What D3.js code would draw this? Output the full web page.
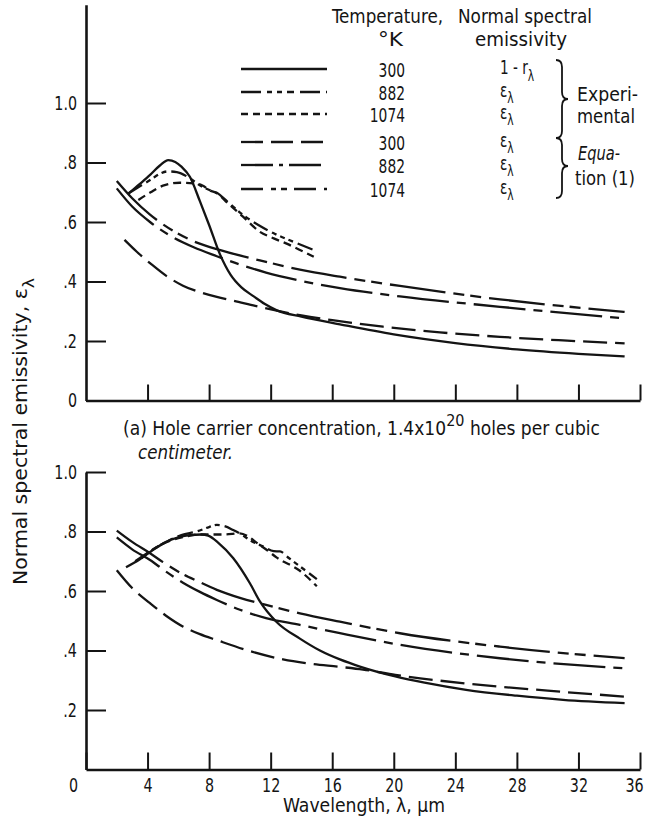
<!DOCTYPE html>
<html>
<head>
<meta charset="utf-8">
<script src="https://cdn.jsdelivr.net/npm/d3@7"></script>
<style>
  html, body { margin: 0; padding: 0; background: #fff; }
  svg { display: block; }
  text {
    font-family: "Liberation Sans Narrow", "DejaVu Sans Condensed", "DejaVu Sans", sans-serif;
    font-stretch: condensed;
    fill: #141414;
  }
</style>
</head>
<body>
<svg id="chart" width="646" height="819"></svg>
<script>
// ---- axes -------------------------------------------------------------
const wavelengthTicks = [0, 4, 8, 12, 16, 20, 24, 28, 32, 36];
const emissivityTicks = [0, 0.2, 0.4, 0.6, 0.8, 1.0];
const emissivityTickLabels = ["0", ".2", ".4", ".6", ".8", "1.0"];

// ---- legend -----------------------------------------------------------
const seriesKeys = ["exp300", "exp882", "exp1074", "eq300", "eq882", "eq1074"];
const legendTemperatures = ["300", "882", "1074", "300", "882", "1074"];
const legendQuantities = ["1 - r", "ε", "ε", "ε", "ε", "ε"];
const legendGroups = ["Experi-|mental", "Equa-|tion (1)"];

// ---- (a) 1.4x10^20 holes/cm^3 : [wavelength µm, emissivity] -----------
const aExp300 = [[2.75,0.695],[3.5,0.728],[4.2,0.76],[4.8,0.79],[5.35,0.808],[5.8,0.802],[6.2,0.786],[6.75,0.752],[7.4,0.67],[8.0,0.59],[8.7,0.492],[9.4,0.422],[10.1,0.38],[10.9,0.35],[11.6,0.325],[12.4,0.303],[14,0.282],[16.5,0.256],[20,0.222],[24,0.193],[28,0.172],[32,0.157],[35,0.148]];
const aExp882 = [[2.75,0.696],[3.5,0.72],[4.2,0.742],[4.8,0.762],[5.3,0.77],[5.9,0.768],[6.75,0.747],[7.5,0.72],[8.05,0.707],[8.5,0.698],[9.2,0.668],[10.2,0.624],[11.2,0.59],[12.2,0.562],[13.5,0.533],[14.8,0.506]];
const aExp1074 = [[3.4,0.674],[4.2,0.70],[5.0,0.722],[6.1,0.732],[7.0,0.73],[7.6,0.722],[8.05,0.706],[8.5,0.697],[9.2,0.664],[10.2,0.618],[11.3,0.567],[12.2,0.545],[13.0,0.528],[14.8,0.483]];
const aEq300 = [[2.5,0.54],[3.3,0.50],[4.2,0.46],[5.24,0.418],[6.3,0.386],[7.4,0.364],[8.5,0.348],[9.56,0.336],[11,0.318],[12.4,0.302],[14,0.286],[16,0.27],[19.3,0.248],[23,0.229],[26.9,0.214],[31,0.202],[35,0.192]];
const aEq882 = [[2.0,0.713],[3,0.652],[4.16,0.600],[5.67,0.548],[7,0.515],[8.5,0.485],[10,0.457],[11.7,0.43],[13.9,0.403],[16.5,0.378],[20.4,0.35],[26.9,0.315],[35,0.276]];
const aEq1074 = [[2.0,0.738],[3,0.68],[4.16,0.625],[5.67,0.57],[7,0.535],[8.9,0.503],[11.7,0.466],[13.9,0.44],[16.5,0.416],[20.4,0.385],[26.9,0.34],[35,0.298]];

// ---- (b) second sample --------------------------------------------------
const bExp300 = [[2.6,0.68],[3.5,0.707],[4.3,0.736],[5.24,0.766],[6.0,0.78],[6.75,0.788],[7.5,0.79],[7.94,0.786],[8.6,0.762],[9.56,0.711],[10.65,0.626],[11.3,0.565],[12.4,0.495],[13.9,0.44],[15.2,0.40],[16.5,0.37],[17.8,0.346],[20.1,0.313],[22,0.292],[24.7,0.268],[28,0.248],[31,0.234],[35,0.223]];
const bExp882 = [[3.2,0.70],[4.2,0.735],[5.24,0.766],[6.2,0.788],[7.2,0.80],[8.0,0.815],[8.5,0.822],[9.0,0.818],[9.56,0.805],[10.1,0.79],[10.65,0.771],[11.5,0.75],[12.2,0.734],[12.6,0.733],[13.2,0.71],[13.9,0.683],[15,0.64]];
const bExp1074 = [[3.6,0.71],[4.5,0.745],[5.5,0.77],[6.5,0.783],[7.3,0.79],[8.05,0.79],[9,0.79],[10,0.794],[10.5,0.785],[11.1,0.762],[11.8,0.736],[12.4,0.712],[13.9,0.668],[15,0.616]];
const bEq300 = [[2.0,0.67],[3,0.61],[4.16,0.559],[5.2,0.517],[6.32,0.48],[7.4,0.455],[8.5,0.435],[10.65,0.398],[12.8,0.37],[14.5,0.356],[16.5,0.345],[18,0.336],[20.1,0.318],[24.7,0.289],[30,0.265],[35,0.245]];
const bEq882 = [[2.0,0.78],[3,0.74],[4.16,0.704],[5.2,0.665],[6.3,0.628],[7.4,0.597],[8.5,0.57],[10,0.537],[11.7,0.509],[13.9,0.486],[16.5,0.458],[20.4,0.419],[26.9,0.374],[35,0.34]];
const bEq1074 = [[2.0,0.803],[3,0.765],[4.16,0.727],[5,0.697],[6.1,0.662],[7.3,0.632],[8.5,0.604],[10,0.577],[11.7,0.553],[13.9,0.525],[16.5,0.497],[20.4,0.458],[26.9,0.413],[35,0.374]];

const panelA = { exp300: aExp300, exp882: aExp882, exp1074: aExp1074, eq300: aEq300, eq882: aEq882, eq1074: aEq1074 };
const panelB = { exp300: bExp300, exp882: bExp882, exp1074: bExp1074, eq300: bEq300, eq882: bEq882, eq1074: bEq1074 };

// line styles: dash pattern on the plot and in the (shorter) legend key
const plotDash = {
  exp300: null,
  exp882: "16,5,5,4,5,4,5,5",
  exp1074: "8,5",
  eq300: "24,8",
  eq882: "52,8,9,8",
  eq1074: "56,8,11,6,11,8"
};
const keyDash = {
  exp300: null,
  exp882: "20,6,5,5,5,5,7,6",
  exp1074: "7,5",
  eq300: "22,8",
  eq882: "32,6,4,6",
  eq1074: "22,8,5,5,6,7"
};

// ---- layout -------------------------------------------------------------
const svg = d3.select("#chart");
const X0 = 86, X1 = 640;
const PX_PER_UNIT = 297.5;              // pixels per unit emissivity
const x = d3.scaleLinear().domain([0, 36]).range([X0, X1]);
const yA = d3.scaleLinear().domain([0, 1.33]).range([400.5, 400.5 - 1.33 * PX_PER_UNIT]);
const yB = d3.scaleLinear().domain([0, 1.0]).range([769.5, 769.5 - PX_PER_UNIT]);

// horizontal compression so a substitute font matches the narrow lettering
const probe = svg.append("text").attr("font-size", 20).text("0123456789");
const probeW = probe.node().getComputedTextLength();
probe.remove();
const K = Math.min(1, 91 / probeW);
function squeeze(sel) {
  sel.each(function () {
    if (K < 0.97) {
      const w = this.getComputedTextLength();
      this.setAttribute("textLength", (w * K).toFixed(1));
      this.setAttribute("lengthAdjust", "spacingAndGlyphs");
    }
  });
}
function fit(sel, w) {
  sel.attr("textLength", w).attr("lengthAdjust", "spacingAndGlyphs");
}

function drawPanel(y, data, yTicks, yLabels, showXLabels, xTickLen) {
  const g = svg.append("g");

  // y axis
  const yAxis = d3.axisLeft(y)
    .tickValues(yTicks)
    .tickSize(-20).tickSizeOuter(0).tickPadding(9)
    .tickFormat((d, i) => yLabels[i]);
  const ya = g.append("g").attr("transform", `translate(${X0},0)`).call(yAxis);
  ya.select(".domain").attr("stroke", "#141414").attr("stroke-width", 2.6);
  ya.selectAll(".tick line").attr("stroke", "#141414").attr("stroke-width", 2);
  ya.selectAll(".tick text").attr("font-size", 20).attr("font-family", null).attr("fill", "#141414");

  // x axis
  const xAxis = d3.axisBottom(x)
    .tickValues(showXLabels ? wavelengthTicks : wavelengthTicks.slice(1))
    .tickSize(-xTickLen).tickSizeOuter(0).tickPadding(8)
    .tickFormat(showXLabels ? d3.format("d") : () => "");
  const xa = g.append("g").attr("transform", `translate(0,${y(0)})`).call(xAxis);
  xa.select(".domain").attr("stroke", "#141414").attr("stroke-width", 2.6);
  xa.selectAll(".tick line").attr("stroke", "#141414").attr("stroke-width", 2);
  xa.selectAll(".tick text").attr("font-size", 20).attr("font-family", null).attr("fill", "#141414");
  xa.selectAll(".tick text").filter(d => d === 0).attr("x", -13);
  xa.selectAll(".tick text").filter(d => d === 36).attr("x", -6);

  squeeze(ya.selectAll(".tick text"));
  squeeze(xa.selectAll(".tick text"));

  // curves
  const line = d3.line()
    .x(d => x(d[0]))
    .y(d => y(d[1]))
    .curve(d3.curveMonotoneX);
  seriesKeys.forEach(k => {
    g.append("path")
      .datum(data[k])
      .attr("d", line)
      .attr("fill", "none")
      .attr("stroke", "#141414")
      .attr("stroke-width", 2.3)
      .attr("stroke-linejoin", "round")
      .attr("stroke-dasharray", plotDash[k]);
  });
  return g;
}

drawPanel(yA, panelA, emissivityTicks, emissivityTickLabels, false, 16);
drawPanel(yB, panelB, emissivityTicks.slice(1), emissivityTickLabels.slice(1), true, 17);

// ---- legend ---------------------------------------------------------------
const leg = svg.append("g");
const rowY = [69, 92, 114, 142, 165, 189];

fit(leg.append("text").attr("x", 332).attr("y", 22.5).attr("font-size", 20).text("Temperature,"), 111);
fit(leg.append("text").attr("x", 390.5).attr("y", 45.5).attr("font-size", 20).attr("text-anchor", "middle").text("°K"), 25);
fit(leg.append("text").attr("x", 458).attr("y", 22.5).attr("font-size", 20).text("Normal spectral"), 134);
fit(leg.append("text").attr("x", 475).attr("y", 45.5).attr("font-size", 20).text("emissivity"), 92);

seriesKeys.forEach((k, i) => {
  const yy = rowY[i];
  leg.append("line")
    .attr("x1", 241).attr("x2", 327).attr("y1", yy).attr("y2", yy)
    .attr("stroke", "#141414").attr("stroke-width", 2.3)
    .attr("stroke-dasharray", keyDash[k]);
  const t = leg.append("text")
    .attr("x", 405).attr("y", yy + 7.5).attr("font-size", 20)
    .attr("text-anchor", "end").text(legendTemperatures[i]);
  fit(t, legendTemperatures[i].length * 8.8);
  const q = leg.append("text").attr("x", 500).attr("y", yy + 4.5).attr("font-size", 19);
  q.append("tspan").text(legendQuantities[i]);
  q.append("tspan").attr("dy", i === 0 ? 7 : 6).attr("font-size", 15).text("λ");
  squeeze(q);
});

// group braces
function brace(x0, yTop, yBot, yTip, w) {
  const r = 7;
  return `M${x0},${yTop} Q${x0 + w},${yTop} ${x0 + w},${yTop + r}` +
         ` L${x0 + w},${yTip - r} Q${x0 + w},${yTip} ${x0 + 2 * w},${yTip}` +
         ` Q${x0 + w},${yTip} ${x0 + w},${yTip + r}` +
         ` L${x0 + w},${yBot - r} Q${x0 + w},${yBot} ${x0},${yBot}`;
}
leg.append("path").attr("d", brace(556, 60, 138, 99, 6))
  .attr("fill", "none").attr("stroke", "#141414").attr("stroke-width", 1.8);
leg.append("path").attr("d", brace(556, 138, 198, 166, 6))
  .attr("fill", "none").attr("stroke", "#141414").attr("stroke-width", 1.8);

const [g1a, g1b] = legendGroups[0].split("|");
const [g2a, g2b] = legendGroups[1].split("|");
fit(leg.append("text").attr("x", 577).attr("y", 100.5).attr("font-size", 20).text(g1a), 61);
fit(leg.append("text").attr("x", 577).attr("y", 122.5).attr("font-size", 20).text(g1b), 58);
fit(leg.append("text").attr("x", 578).attr("y", 159.5).attr("font-size", 20).attr("font-style", "italic").text(g2a), 42);
fit(leg.append("text").attr("x", 575).attr("y", 184.5).attr("font-size", 20).text(g2b), 60);

// ---- captions and axis titles --------------------------------------------------
const cap = svg.append("text").attr("x", 123).attr("y", 435).attr("font-size", 19);
cap.append("tspan").text("(a) Hole carrier concentration, 1.4x10");
cap.append("tspan").attr("dy", -9).attr("font-size", 16).text("20");
cap.append("tspan").attr("dy", 9).text(" holes per cubic");
fit(cap, 477);

fit(svg.append("text").attr("x", 138).attr("y", 459).attr("font-size", 19)
  .attr("font-style", "italic").text("centimeter."), 95);

const yTitle = svg.append("text")
  .attr("transform", "translate(27,431.5) rotate(-90)")
  .attr("text-anchor", "middle").attr("font-size", 19);
yTitle.append("tspan").text("Normal spectral emissivity, ε");
yTitle.append("tspan").attr("dy", 7).attr("font-size", 16).text("λ");
fit(yTitle, 307);

fit(svg.append("text").attr("x", 364).attr("y", 812).attr("text-anchor", "middle")
  .attr("font-size", 19).text("Wavelength, λ, μm"), 162);
</script>
</body>
</html>
